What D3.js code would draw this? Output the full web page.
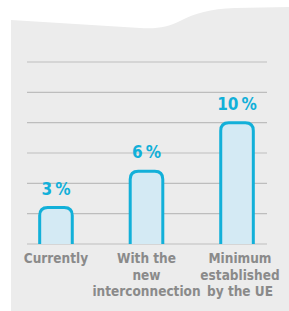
<!DOCTYPE html>
<html>
<head>
<meta charset="utf-8">
<script src="https://cdn.jsdelivr.net/npm/d3@7"></script>
<style>
  html, body { margin: 0; padding: 0; background: #fff; }
  svg { display: block; }
</style>
</head>
<body>
<svg id="chart" width="289" height="311"></svg>
<script>
// chart data
var categories = [['Currently'], ['With the', 'new', 'interconnection'], ['Minimum', 'established', 'by the UE']];
var values = [3, 6, 10];
var valueLabels = ['3 %', '6 %', '10 %'];
var gridTicks = [0, 2.5, 5, 7.5, 10, 12.5, 15];

var svg = d3.select('#chart');
var cyan = '#12b0d9';

// grey card with wavy top edge
svg.append('path')
  .attr('d', 'M11,20 L140,28 C158,29 168,27 180,21 C195,13 210,9 235,8 L289,7 V311 H11 Z')
  .attr('fill', '#ececec');

var x = d3.scaleBand()
  .domain(d3.range(values.length))
  .range([8, 285])
  .paddingInner(0.64)
  .paddingOuter(0.35);

var y = d3.scaleLinear()
  .domain([0, 15])
  .range([244, 62]);

// grid lines
svg.selectAll('line.grid')
  .data(gridTicks)
  .enter()
  .append('line')
  .attr('x1', 27).attr('x2', 267)
  .attr('y1', d => y(d)).attr('y2', d => y(d))
  .attr('stroke', '#bdbdbd')
  .attr('stroke-width', 1.2);

function barPath(d, i) {
  var x0 = x(i), x1 = x(i) + x.bandwidth(), top = y(d), base = y(0), r = 8;
  return 'M' + x0 + ',' + base + ' V' + (top + r) +
    ' Q' + x0 + ',' + top + ' ' + (x0 + r) + ',' + top +
    ' H' + (x1 - r) +
    ' Q' + x1 + ',' + top + ' ' + x1 + ',' + (top + r) +
    ' V' + base;
}

svg.selectAll('path.bar')
  .data(values)
  .enter()
  .append('path')
  .attr('class', 'bar')
  .attr('d', barPath)
  .attr('fill', '#d4eaf4')
  .attr('stroke', cyan)
  .attr('stroke-width', 3);

// value labels
svg.selectAll('text.val')
  .data(values)
  .enter()
  .append('text')
  .attr('x', (d, i) => x(i) + x.bandwidth() / 2)
  .attr('y', d => y(d) - 13)
  .attr('text-anchor', 'middle')
  .attr('fill', cyan)
  .style('font-family', 'DejaVu Sans Condensed, DejaVu Sans, sans-serif')
  .style('font-weight', 'bold')
  .style('font-size', '17px')
  .text((d, i) => valueLabels[i].replace(' ', '\u2009'));

// category labels
var cat = svg.selectAll('text.cat')
  .data(categories)
  .enter()
  .append('text')
  .attr('text-anchor', 'middle')
  .attr('fill', '#8a8a8a')
  .style('font-family', 'DejaVu Sans Condensed, DejaVu Sans, sans-serif')
  .style('font-weight', 'bold')
  .style('font-size', '13.5px');

cat.selectAll('tspan')
  .data((d, i) => d.map(s => ({ s: s, i: i })))
  .enter()
  .append('tspan')
  .attr('x', d => x(d.i) + x.bandwidth() / 2 + (d.i === 2 ? 3 : 0))
  .attr('y', (d, j) => 263 + j * 16.5)
  .text(d => d.s);
</script>
</body>
</html>
